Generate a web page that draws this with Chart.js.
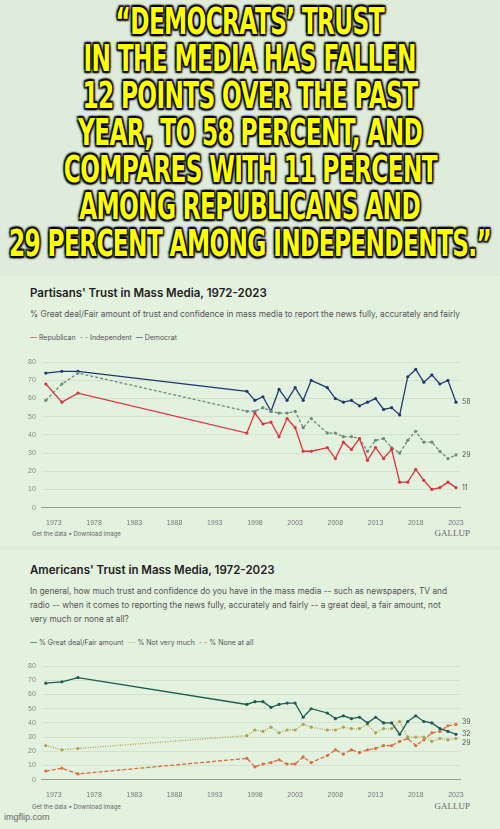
<!DOCTYPE html>
<html><head><meta charset="utf-8">
<script src="https://cdn.jsdelivr.net/npm/chart.js@4"></script>
<style>
body{margin:0;width:500px;height:829px;background:#dfecdc;position:relative;overflow:hidden;font-family:Inter,"Noto Sans",sans-serif}
.head{position:absolute;left:0;top:3px;width:500px;font-family:"DejaVu Sans",sans-serif;font-weight:bold;font-size:37px;line-height:37px;color:#ffff00;letter-spacing:-1px;
text-shadow:-2px -2px 2px #000,2px -2px 2px #000,-2px 2px 2px #000,2px 2px 2px #000,0 0 4px #000}
.head div{white-space:nowrap;width:500px;display:flex;justify-content:center}
.head span{display:inline-block;flex:none;transform-origin:center}
.panel{position:absolute;left:0;width:500px;background:#e3f1df}
.t{position:absolute;left:30px;font-size:11.5px;font-weight:600;color:#222}
.s{position:absolute;left:30px;font-size:8.3px;color:#555;line-height:14px;width:430px}
.lg{position:absolute;left:30px;font-size:7px;color:#555}
.ft{position:absolute;left:32px;font-size:6px;color:#666}
.gal{position:absolute;right:30px;font-family:"Liberation Serif",serif;font-size:9px;color:#666}
canvas{position:absolute}
</style></head><body>
<div class="head" id="hd"><div><span>“DEMOCRATS’ TRUST</span></div><div><span>IN THE MEDIA HAS FALLEN</span></div><div><span>12 POINTS OVER THE PAST</span></div><div><span>YEAR, TO 58 PERCENT, AND</span></div><div><span>COMPARES WITH 11 PERCENT</span></div><div><span>AMONG REPUBLICANS AND</span></div><div><span>29 PERCENT AMONG INDEPENDENTS.”</span></div></div>
<div class="panel" style="top:276px;height:270px"></div>
<div class="panel" style="top:550px;height:279px"></div>
<div class="t" style="top:286px">Partisans' Trust in Mass Media, 1972-2023</div>
<div class="s" style="top:307px">% Great deal/Fair amount of trust and confidence in mass media to report the news fully, accurately and fairly</div>
<div class="lg" style="top:333px"><span style="color:#e0323c">—</span> Republican &nbsp;<span style="color:#6e8a78">- -</span> Independent &nbsp;<span style="color:#1f3a6e">—</span> Democrat</div>
<div class="ft" style="top:530px">Get the data • Download image</div>
<div class="gal" style="top:528px">GALLUP</div>
<div class="t" style="top:563px">Americans' Trust in Mass Media, 1972-2023</div>
<div class="s" style="top:584px;width:425px">In general, how much trust and confidence do you have in the mass media -- such as newspapers, TV and radio -- when it comes to reporting the news fully, accurately and fairly -- a great deal, a fair amount, not very much or none at all?</div>
<div class="lg" style="top:638px"><span style="color:#1d5c4f">—</span> % Great deal/Fair amount &nbsp;<span style="color:#b0a050">····</span> % Not very much &nbsp;<span style="color:#e06a3a">- -</span> % None at all</div>
<div class="ft" style="top:803px">Get the data • Download image</div>
<div class="gal" style="top:801px">GALLUP</div>
<div style="position:absolute;left:4px;top:812px;font-size:9px;color:#666;font-family:'Liberation Sans',sans-serif">imgflip.com</div>
<canvas id="c1" style="left:22px;top:352px;width:460px;height:178px"></canvas>
<canvas id="c2" style="left:22px;top:656px;width:460px;height:146px"></canvas>
<script>
const years=[1972,1974,1976,1997,1998,1999,2000,2001,2002,2003,2004,2005,2007,2008,2009,2010,2011,2012,2013,2014,2015,2016,2017,2018,2019,2020,2021,2022,2023];
const xTicks=[1973,1978,1983,1988,1993,1998,2003,2008,2013,2018,2023];
const yTicks=[0,10,20,30,40,50,60,70,80];
const republican=[68,58,63,41,52,46,47,39,49,44,31,31,33,27,36,32,38,26,33,27,32,14,14,21,15,10,11,14,11];
const independent=[59,68,74,53,53,55,53,52,52,53,44,49,41,41,39,39,38,31,37,38,33,30,37,42,36,36,31,27,29];
const democrat=[74,75,75,64,59,61,53,65,59,66,59,70,66,60,58,59,56,58,60,54,55,51,72,76,69,73,68,70,58];
const greatFair=[68,69,72,53,55,55,51,53,54,54,44,50,47,43,45,43,44,40,44,40,40,32,41,45,41,40,36,34,32];
const notVery=[24,21,22,31,35,34,37,33,35,35,39,37,35,35,37,36,36,39,33,36,36,41,30,30,30,27,29,28,29];
const noneAll=[6,8,4,15,9,11,12,14,11,11,16,12,17,21,18,21,19,21,22,24,24,27,29,24,28,33,34,38,39];
(function(){const sp=[...document.querySelectorAll('#hd span')];const w=Math.max(...sp.map(s=>s.offsetWidth));const k=482/w;sp.forEach(s=>s.style.transform='scaleX('+k+')');})();
const pts=a=>a.map((v,i)=>({x:years[i],y:v}));
const endLabel={id:'endLabel',afterDatasetsDraw(ch){const c=ch.ctx;c.save();c.font='7px Inter';c.fillStyle='#555';c.textBaseline='middle';
 ch.data.datasets.forEach((d,i)=>{const m=ch.getDatasetMeta(i);const p=m.data[m.data.length-1];c.fillText(d.data[d.data.length-1].y,p.x+6,p.y+(d.dy||0));});c.restore();}};
function ds(label,data,color,dash,dy){return {label,data:pts(data),borderColor:color,backgroundColor:color,borderWidth:1.3,borderDash:dash,pointRadius:1.6,pointBorderWidth:0,dy,tension:0};}
function opts(){return {responsive:false,animation:false,layout:{padding:{right:22,top:4}},plugins:{legend:{display:false},tooltip:{enabled:false}},
 scales:{x:{type:'linear',min:1971.5,max:2023.5,afterBuildTicks:s=>{s.ticks=xTicks.map(v=>({value:v}))},grid:{display:false},border:{color:'#999'},ticks:{color:'#777',font:{size:7},maxRotation:0,autoSkip:false,callback:v=>String(v)}},
 y:{min:0,max:80,afterBuildTicks:s=>{s.ticks=yTicks.map(v=>({value:v}))},grid:{color:'#d3e2cf',drawTicks:false},border:{display:false},ticks:{color:'#888',font:{size:7},padding:6}}}};}
function mk(id,w,h,datasets){const cv=document.getElementById(id);cv.width=w;cv.height=h;new Chart(cv,{type:'line',data:{datasets},options:opts(),plugins:[endLabel]});}
mk('c1',460,178,[ds('Republican',republican,'#e0323c',[]),ds('Independent',independent,'#6e8a78',[3,2]),ds('Democrat',democrat,'#1f3a6e',[])]);
mk('c2',460,146,[ds('Great deal/Fair amount',greatFair,'#1d5c4f',[],0),ds('Not very much',notVery,'#b0a050',[1,1.5],4),ds('None at all',noneAll,'#e06a3a',[4,2],-2)]);
</script></body></html>
